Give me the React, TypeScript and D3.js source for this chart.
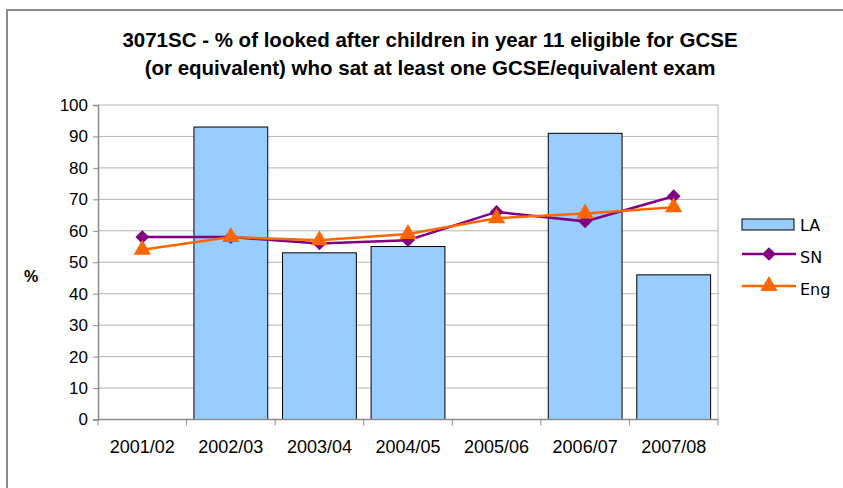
import React, { useRef, useEffect } from 'react'
import * as d3 from 'd3'

const years = ['2001/02', '2002/03', '2003/04', '2004/05', '2005/06', '2006/07', '2007/08']
const laValues: (number | null)[] = [null, 93, 53, 55, null, 91, 46]
const snValues = [58, 58, 56, 57, 66, 63, 71]
const engValues = [54, 58, 57, 59, 64, 65.5, 67.5]
const yTicks = [0, 10, 20, 30, 40, 50, 60, 70, 80, 90, 100]
const titleLines = [
	'3071SC - % of looked after children in year 11 eligible for GCSE',
	'(or equivalent) who sat at least one GCSE/equivalent exam',
]

const W = 843
const H = 488
const font = 'Liberation Sans, Arial, sans-serif'

const App = () => {
	const svgRef = useRef<SVGSVGElement | null>(null)

	const margin = { top: 105, right: 125, bottom: 68.5, left: 98 }
	const plotW = W - margin.left - margin.right
	const plotH = H - margin.top - margin.bottom

	useEffect(() => {
		const svg = d3.select(svgRef.current)
		svg.selectAll('*').remove()

		// outer chart frame
		svg
			.append('path')
			.attr('d', `M7,${H + 5} V10 H${W + 5}`)
			.attr('fill', 'none')
			.attr('stroke', '#8c8c8c')
			.attr('stroke-width', 2)

		const title = svg
			.append('text')
			.attr('font-family', font)
			.attr('font-weight', 'bold')
			.attr('font-size', 20.5)
			.attr('text-anchor', 'middle')
		titleLines.forEach((t, i) => {
			title.append('tspan').attr('x', 430).attr('y', 47 + i * 28).text(t)
		})

		const g = svg.append('g').attr('transform', `translate(${margin.left},${margin.top})`)

		const x = d3.scaleBand().domain(years).range([0, plotW]).paddingInner(0).paddingOuter(0)
		const y = d3.scaleLinear().domain([0, 100]).range([plotH, 0])

		// gridlines
		g.selectAll('line.grid')
			.data(yTicks.slice(1))
			.enter()
			.append('line')
			.attr('x1', 0)
			.attr('x2', plotW)
			.attr('y1', (d) => y(d))
			.attr('y2', (d) => y(d))
			.attr('stroke', '#b4b4b4')
			.attr('stroke-width', 1)

		g.append('line')
			.attr('x1', plotW)
			.attr('x2', plotW)
			.attr('y1', 0)
			.attr('y2', plotH)
			.attr('stroke', '#b4b4b4')

		// bars (gap width 20%)
		const bw = x.bandwidth() / 1.2
		g.selectAll('rect.bar')
			.data(years.map((yr, i) => ({ yr, v: laValues[i] })).filter((d) => d.v !== null))
			.enter()
			.append('rect')
			.attr('x', (d) => x(d.yr)! + (x.bandwidth() - bw) / 2)
			.attr('y', (d) => y(d.v as number))
			.attr('width', bw)
			.attr('height', (d) => plotH - y(d.v as number))
			.attr('fill', '#99ccff')
			.attr('stroke', '#000')
			.attr('stroke-width', 1)

		// axes
		const yAxis = g.append('g').call(d3.axisLeft(y).tickValues(yTicks).tickSize(5).tickPadding(5))
		yAxis.select('.domain').attr('stroke', '#8c8c8c').attr('stroke-width', 1.5)
		yAxis.selectAll('.tick line').attr('stroke', '#8c8c8c')
		yAxis
			.selectAll('.tick text')
			.attr('font-family', font)
			.attr('font-size', 17)
			.attr('fill', '#000')

		const xAxis = g.append('g').attr('transform', `translate(0,${plotH})`)
		xAxis
			.append('line')
			.attr('x1', 0)
			.attr('x2', plotW)
			.attr('stroke', '#8c8c8c')
			.attr('stroke-width', 1.5)
		const bounds = years.map((d) => x(d)!).concat([plotW])
		xAxis
			.selectAll('line.tk')
			.data(bounds)
			.enter()
			.append('line')
			.attr('x1', (d) => d)
			.attr('x2', (d) => d)
			.attr('y1', 0)
			.attr('y2', 6)
			.attr('stroke', '#8c8c8c')
		xAxis
			.selectAll('text')
			.data(years)
			.enter()
			.append('text')
			.attr('x', (d) => x(d)! + x.bandwidth() / 2)
			.attr('y', 33)
			.attr('text-anchor', 'middle')
			.attr('font-family', font)
			.attr('font-size', 18)
			.text((d) => d)

		svg.append('text')
			.attr('x', 31)
			.attr('y', 282)
			.attr('text-anchor', 'middle')
			.attr('font-family', font)
			.attr('font-weight', 'bold')
			.attr('font-size', 16)
			.text('%')

		const cx = (i: number) => x(years[i])! + x.bandwidth() / 2
		const line = d3
			.line<number>()
			.x((_, i) => cx(i))
			.y((d) => y(d))

		const diamond = d3.symbol().type(d3.symbolDiamond2).size(120)
		const triangle = d3.symbol().type(d3.symbolTriangle).size(130)

		g.append('path')
			.attr('d', line(snValues)!)
			.attr('fill', 'none')
			.attr('stroke', '#800080')
			.attr('stroke-width', 2.5)
		g.selectAll('path.sn')
			.data(snValues)
			.enter()
			.append('path')
			.attr('d', diamond()!)
			.attr('transform', (d, i) => `translate(${cx(i)},${y(d)})`)
			.attr('fill', '#800080')

		g.append('path')
			.attr('d', line(engValues)!)
			.attr('fill', 'none')
			.attr('stroke', '#ff6600')
			.attr('stroke-width', 2.5)
		g.selectAll('path.eng')
			.data(engValues)
			.enter()
			.append('path')
			.attr('d', triangle()!)
			.attr('transform', (d, i) => `translate(${cx(i)},${y(d)})`)
			.attr('fill', '#ff6600')

		// legend
		const lg = svg.append('g').attr('transform', 'translate(742,0)')
		lg.append('rect')
			.attr('x', 0)
			.attr('y', 219)
			.attr('width', 52)
			.attr('height', 11)
			.attr('fill', '#99ccff')
			.attr('stroke', '#000')
		lg.append('line').attr('x1', 0).attr('x2', 54).attr('y1', 254).attr('y2', 254).attr('stroke', '#800080').attr('stroke-width', 2.5)
		lg.append('path').attr('d', diamond()!).attr('transform', 'translate(27,254)').attr('fill', '#800080')
		lg.append('line').attr('x1', 0).attr('x2', 54).attr('y1', 286).attr('y2', 286).attr('stroke', '#ff6600').attr('stroke-width', 2.5)
		lg.append('path').attr('d', triangle()!).attr('transform', 'translate(27,286)').attr('fill', '#ff6600')
		;['LA', 'SN', 'Eng'].forEach((t, i) => {
			lg.append('text')
				.attr('x', 58)
				.attr('y', 231 + i * 32)
				.attr('font-family', 'DejaVu Sans, Verdana, sans-serif')
				.attr('font-size', 16)
				.text(t)
		})
	}, [])

	return (
		<svg
			ref={svgRef}
			width={W}
			height={H}
			style={{ position: 'absolute', left: 0, top: 0, background: '#fff' }}
		></svg>
	)
}

export default App
